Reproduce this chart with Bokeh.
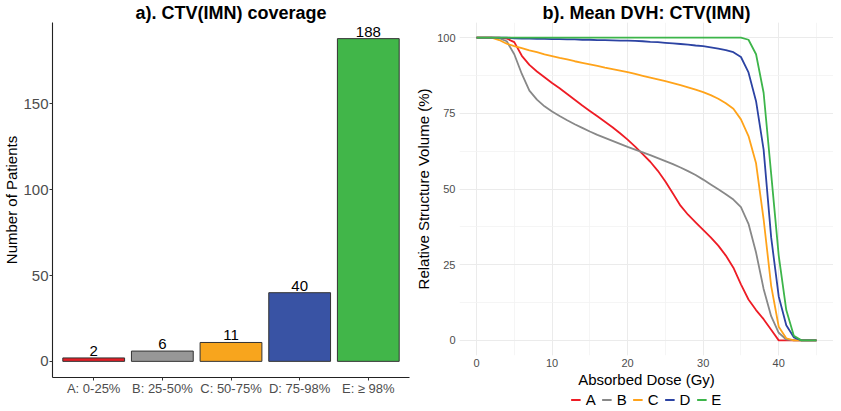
from bokeh.plotting import figure
from bokeh.models import (Range1d, FixedTicker, SingleIntervalTicker,
                          Legend, LegendItem, ColumnDataSource)
from bokeh.layouts import row, column
from bokeh.core.properties import value
from bokeh.embed import file_html
from bokeh.resources import INLINE

FONT = "Liberation Sans"

# ---------------- data ----------------
categories = ["A: 0-25%", "B: 25-50%", "C: 50-75%", "D: 75-98%", "E: \u2265 98%"]
patients = [2, 6, 11, 40, 188]
bar_colors = ["#E41E26", "#979797", "#F8A51D", "#3953A4", "#41B649"]
y_ticks_a = [0, 50, 100, 150]

groups = ["A", "B", "C", "D", "E"]
line_colors = ["#EE1C25", "#888888", "#FFA31A", "#2C43A3", "#3DB54A"]
dose = list(range(0, 46))
dvh_A = [100, 100, 100, 100, 99.7, 98.5, 94, 91, 88.8, 86.9,
         85, 83.3, 81.4, 79.5, 77.6, 75.8, 74, 72.2, 70.4, 68.4,
         66.3, 64, 61.5, 59, 56, 52.5, 48.5, 44.5, 41.5, 39,
         36.5, 34, 31.3, 28, 24, 18.5, 13.5, 10, 7, 3.5,
         0, 0, 0, 0, 0, 0]
dvh_B = [100, 100, 100, 99.8, 98.8, 94.5, 88, 82.5, 79.5, 77.3,
         75.6, 74.1, 72.7, 71.4, 70.2, 69, 67.9, 66.9, 65.9, 64.9,
         63.9, 63, 62.1, 61.2, 60.2, 59.2, 58.2, 57.1, 55.9, 54.6,
         53.1, 51.5, 49.9, 48.3, 46.5, 44, 38.5, 29, 17, 8,
         2.5, 0.3, 0, 0, 0, 0]
dvh_C = [100, 100, 100, 99.2, 98, 97.2, 96.5, 95.8, 95.2, 94.5,
         93.9, 93.3, 92.8, 92.2, 91.7, 91.2, 90.7, 90.1, 89.6, 89.1,
         88.6, 88, 87.4, 86.8, 86.2, 85.6, 85, 84.3, 83.6, 82.8,
         82, 81, 79.8, 78.3, 76.5, 73, 67.5, 58.5, 40, 18,
         4.5, 0.7, 0, 0, 0, 0]
dvh_D = [100, 100, 100, 100, 100, 99.8, 99.7, 99.7, 99.6, 99.6,
         99.5, 99.5, 99.4, 99.4, 99.3, 99.3, 99.2, 99.2, 99.1, 99.0,
         99.0, 98.9, 98.8, 98.6, 98.5, 98.3, 98.1, 97.9, 97.7, 97.4,
         97.2, 96.8, 96.4, 95.9, 95.2, 93.6, 88.5, 79, 63, 34,
         14.5, 5, 1, 0, 0, 0]
dvh_E = [100, 100, 100, 100, 100, 100, 100, 100, 100, 100,
         100, 100, 100, 100, 100, 100, 100, 100, 100, 100,
         100, 100, 100, 100, 100, 100, 100, 100, 100, 100,
         100, 100, 100, 100, 100, 100, 99.3, 94.5, 81.8, 55,
         28, 10, 1.5, 0, 0, 0]
dvh_series = [dvh_A, dvh_B, dvh_C, dvh_D, dvh_E]

TOTAL_H = 408
LEG_H = 18


def style_title(p, text):
    p.title.text = text
    p.title.text_font = FONT
    p.title.text_font_size = "18px"
    p.title.text_font_style = "bold"
    p.title.text_color = "black"
    p.title.align = "center"
    p.title.standoff = 0
    p.title.offset = 0


# ---------------- panel a ----------------
xs = [i + 1 for i in range(len(categories))]
ya0, ya1 = -0.05 * max(patients), 1.05 * max(patients)

p1 = figure(width=412, height=TOTAL_H, output_backend="svg", toolbar_location=None,
            x_range=Range1d(0.4, len(categories) + 0.6), y_range=Range1d(ya0, ya1),
            min_border_left=30, min_border_right=3, min_border_top=0,
            min_border_bottom=TOTAL_H - 377)
style_title(p1, "a). CTV(IMN) coverage")
p1.outline_line_color = None
p1.xgrid.grid_line_color = None
p1.ygrid.grid_line_color = None

src = ColumnDataSource(dict(x=xs, top=patients, color=bar_colors,
                            label=[str(v) for v in patients]))
p1.vbar(x="x", top="top", bottom=0, width=0.9, fill_color="color",
        line_color="#333333", line_width=1, source=src)
p1.text(x="x", y="top", text="label", text_align="center", text_baseline="bottom",
        y_offset=-2, text_font=value(FONT), text_font_size="15px",
        text_color="black", source=src)

p1.xaxis.ticker = FixedTicker(ticks=xs)
p1.xaxis.major_label_overrides = {x: c for x, c in zip(xs, categories)}
p1.yaxis.ticker = FixedTicker(ticks=y_ticks_a)
for ax in (p1.xaxis[0], p1.yaxis[0]):
    ax.axis_line_color = "#222222"
    ax.axis_line_width = 1.1
    ax.major_tick_line_color = "#333333"
    ax.major_tick_out = 3
    ax.major_tick_in = 0
    ax.minor_tick_line_color = None
    ax.major_label_text_color = "#4D4D4D"
    ax.major_label_text_font = FONT
    ax.major_label_standoff = 1
p1.xaxis.major_label_text_font_size = "13px"
p1.xaxis.major_label_standoff = 0
p1.yaxis.major_label_text_font_size = "15px"
p1.yaxis.axis_label = "Number of Patients"
p1.yaxis.axis_label_text_font = FONT
p1.yaxis.axis_label_text_font_size = "15px"
p1.yaxis.axis_label_text_font_style = "normal"
p1.yaxis.axis_label_text_color = "black"
p1.yaxis.axis_label_standoff = 0

# ---------------- panel b ----------------
xb0, xb1 = -0.05 * max(dose), 1.05 * max(dose)
p2 = figure(width=421, height=TOTAL_H - LEG_H, output_backend="svg",
            toolbar_location=None,
            x_range=Range1d(xb0, xb1), y_range=Range1d(-5, 105),
            min_border_left=43, min_border_right=0, min_border_top=0,
            min_border_bottom=20)
style_title(p2, "b). Mean DVH: CTV(IMN)")
p2.outline_line_color = None

for col, vals in zip(line_colors, dvh_series):
    p2.line(dose, vals, line_color=col, line_width=1.8)

p2.xaxis.ticker = SingleIntervalTicker(interval=10, num_minor_ticks=2)
p2.yaxis.ticker = SingleIntervalTicker(interval=25, num_minor_ticks=2)
for gr in (p2.xgrid[0], p2.ygrid[0]):
    gr.grid_line_color = "#EBEBEB"
    gr.grid_line_width = 1
    gr.minor_grid_line_color = "#F3F3F3"
    gr.minor_grid_line_width = 0.8
for ax in (p2.xaxis[0], p2.yaxis[0]):
    ax.axis_line_color = None
    ax.major_tick_line_color = None
    ax.minor_tick_line_color = None
    ax.major_tick_out = 0
    ax.major_tick_in = 0
    ax.minor_tick_out = 0
    ax.minor_tick_in = 0
    ax.major_label_text_color = "#4D4D4D"
    ax.major_label_text_font = FONT
    ax.major_label_text_font_size = "11px"
    ax.major_label_standoff = 4
    ax.axis_label_text_font = FONT
    ax.axis_label_text_font_size = "15px"
    ax.axis_label_text_font_style = "normal"
    ax.axis_label_text_color = "black"
    ax.axis_label_standoff = 2
p2.xaxis.major_label_standoff = 3
p2.xaxis.axis_label_standoff = 1
p2.xaxis.axis_label = "Absorbed Dose (Gy)"
p2.yaxis.axis_label = "Relative Structure Volume (%)"

# ---------------- legend strip (keys for panel b) ----------------
# the series are drawn again here only so the legend has real renderers;
# the y range keeps them out of view.
p3 = figure(width=421, height=LEG_H, output_backend="svg", toolbar_location=None,
            x_range=Range1d(xb0, xb1), y_range=Range1d(1000, 1001),
            x_axis_location=None, y_axis_location=None,
            min_border_left=43, min_border_right=0, min_border_top=0,
            min_border_bottom=0)
p3.outline_line_color = None
p3.xgrid.grid_line_color = None
p3.ygrid.grid_line_color = None
items = []
for g, col, vals in zip(groups, line_colors, dvh_series):
    r = p3.line(dose, vals, line_color=col, line_width=1.8)
    items.append(LegendItem(label=g, renderers=[r]))
legend = Legend(items=items, orientation="horizontal", location="center",
                glyph_width=10, glyph_height=14, label_standoff=5, spacing=6,
                label_width=10, label_height=14, padding=0, margin=0,
                border_line_color=None, background_fill_alpha=0,
                label_text_font=FONT, label_text_font_size="15px",
                label_text_color="black")
p3.add_layout(legend)

layout = row(p1, column(p2, p3))
open("out.html", "w").write(file_html(layout, INLINE))
